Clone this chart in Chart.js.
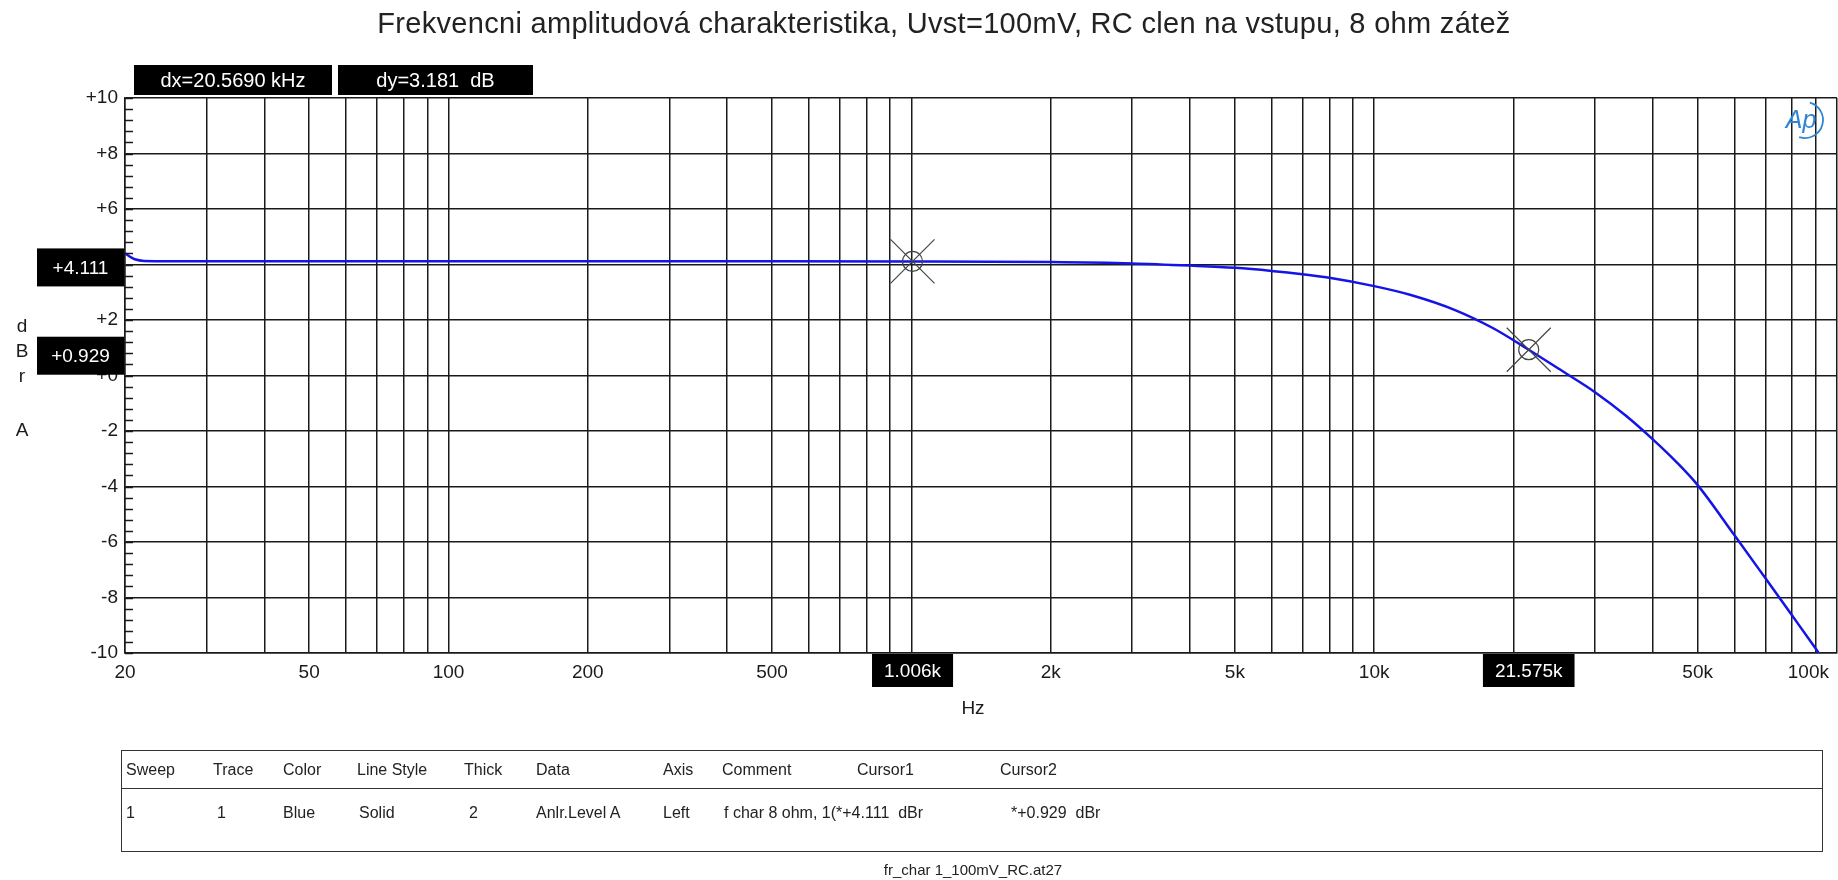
<!DOCTYPE html>
<html>
<head>
<meta charset="utf-8">
<title>fr_char 1_100mV_RC</title>
<script src="https://cdn.jsdelivr.net/npm/chart.js@4.4.1/dist/chart.umd.min.js"></script>
<style>
  html, body { margin: 0; padding: 0; background: #fff; overflow: hidden; }
  #wrap { position: relative; width: 1838px; height: 880px; font-family: "Liberation Sans", Arial, sans-serif; color: #222; }
  #canvas { position: absolute; left: 0; top: 0; }
  #title { position: absolute; left: 0; width: 1888px; top: 6px; line-height: 34px; text-align: center;
    font-size: 29px; letter-spacing: 0.3px; }
  #sweepTable { position: absolute; left: 121px; top: 750px; width: 1702px; height: 102px;
    border: 1.5px solid #333; box-sizing: border-box; font-size: 16px; }
  #sweepTable .sep { position: absolute; left: 0; right: 0; top: 37px; border-top: 1.5px solid #333; }
  #sweepTable span { position: absolute; white-space: pre; line-height: 18px; }
  #fileName { position: absolute; left: 0; width: 1946px; top: 861px; line-height: 18px; text-align: center; font-size: 15px; }
</style>
</head>
<body>
<div id="wrap">
  <canvas id="canvas" width="1838" height="880"></canvas>
  <div id="title">Frekvencni amplitudová charakteristika, Uvst=100mV, RC clen na vstupu, 8 ohm zátež</div>
  <div id="sweepTable"><div class="sep"></div></div>
  <div id="fileName">fr_char 1_100mV_RC.at27</div>
</div>
<script>
// measured response, trace 1 (Anlr.Level A, dBr)
const freqHz = [20, 20.5, 21, 22, 25, 30, 50, 100, 200, 500, 1006, 2000, 3000, 4000, 5000, 6000, 7000, 8000,
  10000, 12000, 15000, 18000, 21575, 25000, 30000, 35000, 40000, 45000, 50000, 60000, 70000, 80000, 90000, 100000];
const levelDbr = [4.40, 4.28, 4.19, 4.13, 4.12, 4.12, 4.12, 4.12, 4.12, 4.115, 4.111, 4.09, 4.04, 3.96, 3.88, 3.77, 3.65, 3.52,
  3.22, 2.90, 2.35, 1.72, 0.929, 0.25, -0.60, -1.45, -2.30, -3.12, -3.95, -5.75, -7.30, -8.65, -9.85, -10.95];

// vertical grid lines (1..9 per decade)
const xGridHz = [20, 30, 40, 50, 60, 70, 80, 90,
  100, 200, 300, 400, 500, 600, 700, 800, 900,
  1000, 2000, 3000, 4000, 5000, 6000, 7000, 8000, 9000,
  10000, 20000, 30000, 40000, 50000, 60000, 70000, 80000, 90000, 100000];
const xLabelHz = [20, 50, 100, 200, 500, 2000, 5000, 10000, 50000, 100000];
const xLabelText = ['20', '50', '100', '200', '500', '2k', '5k', '10k', '50k', '100k'];

// cursors
const cursorHz = [1006, 21575];
const cursorDbr = [4.111, 0.929];
const readoutText = ['dx=20.5690 kHz', 'dy=3.181  dB'];

// table below the graph
const tableHeads = ['Sweep', 'Trace', 'Color', 'Line Style', 'Thick', 'Data', 'Axis', 'Comment', 'Cursor1', 'Cursor2'];
const tableRow = ['1', '1', 'Blue', 'Solid', '2', 'Anlr.Level A', 'Left', 'f char 8 ohm, 1(*+4.111  dBr', '*+0.929  dBr'];
const headX = [4, 91, 161, 235, 342, 414, 541, 600, 735, 878];
const rowX = [4, 95, 161, 237, 347, 414, 541, 602, 889];

const FONT = '"Liberation Sans", Arial, sans-serif';
const INK = '#1a1a1a';

const tbl = document.getElementById('sweepTable');
tableHeads.forEach((t, i) => {
  const s = document.createElement('span');
  s.textContent = t; s.style.left = headX[i] + 'px'; s.style.top = '10px';
  tbl.appendChild(s);
});
tableRow.forEach((t, i) => {
  const s = document.createElement('span');
  s.textContent = t; s.style.left = rowX[i] + 'px'; s.style.top = '53px';
  tbl.appendChild(s);
});

const box = (ctx, x, y, w, h, text, size) => {
  ctx.fillStyle = '#000';
  ctx.fillRect(x, y, w, h);
  ctx.fillStyle = '#fff';
  ctx.font = size + 'px ' + FONT;
  ctx.textAlign = 'center';
  ctx.textBaseline = 'middle';
  ctx.fillText(text, x + w / 2, y + h / 2 + 1);
};

const extras = {
  id: 'extras',
  afterDraw(chart) {
    const { ctx, chartArea: a, scales: { x, y } } = chart;
    ctx.save();

    // minor ticks on the left axis
    ctx.strokeStyle = INK;
    ctx.lineWidth = 1.5;
    for (let i = 0; i <= 50; i++) {
      const py = Math.round(y.getPixelForValue(-10 + i * 0.4)) + 0.5;
      ctx.beginPath();
      ctx.moveTo(a.left, py);
      ctx.lineTo(a.left + 8, py);
      ctx.stroke();
    }

    // frequency labels
    ctx.fillStyle = INK;
    ctx.font = '19px ' + FONT;
    ctx.textAlign = 'center';
    ctx.textBaseline = 'middle';
    xLabelHz.forEach((v, i) => {
      const w = ctx.measureText(xLabelText[i]).width;
      let px = x.getPixelForValue(v);
      px = Math.min(px, chart.width - 9 - w / 2);
      ctx.fillText(xLabelText[i], px, a.bottom + 20);
    });
    ctx.fillText('Hz', 973, 709);

    // axis title, stacked letters
    [['d', 327], ['B', 352], ['r', 377], ['A', 431]].forEach(([c, py]) => ctx.fillText(c, 22, py));

    // readouts above the graph
    box(ctx, 134, 65, 198, 30, readoutText[0], 20);
    box(ctx, 338, 65, 195, 30, readoutText[1], 20);

    // cursor markers
    cursorHz.forEach((f, i) => {
      const px = x.getPixelForValue(f);
      const py = y.getPixelForValue(cursorDbr[i]);
      ctx.strokeStyle = '#444';
      ctx.lineWidth = 1.2;
      ctx.beginPath();
      ctx.arc(px, py, 10, 0, Math.PI * 2);
      ctx.moveTo(px - 22, py - 22); ctx.lineTo(px + 22, py + 22);
      ctx.moveTo(px + 22, py - 22); ctx.lineTo(px - 22, py + 22);
      ctx.stroke();

      // value boxes on both axes
      box(ctx, 37, py - 13, 87, 38, '+' + cursorDbr[i].toFixed(3), 19);
      const t = (f / 1000).toFixed(3) + 'k';
      ctx.font = '19px ' + FONT;
      const w = ctx.measureText(t).width + 24;
      box(ctx, px - w / 2, a.bottom + 1, w, 33, t, 19);
    });

    // Ap logo
    ctx.fillStyle = '#2f86d4';
    ctx.strokeStyle = '#2f86d4';
    ctx.font = 'italic 25px ' + FONT;
    ctx.textAlign = 'center';
    ctx.fillText('Ap', 1801, 121);
    ctx.lineWidth = 1.8;
    ctx.beginPath();
    ctx.arc(1805, 120, 18, -1.3, 1.9);
    ctx.stroke();

    ctx.restore();
  }
};

const ctx = document.getElementById('canvas').getContext('2d');

new Chart(ctx, {
  type: 'line',
  data: {
    datasets: [{
      data: freqHz.map((f, i) => ({ x: f, y: levelDbr[i] })),
      borderColor: '#1414e6',
      borderWidth: 2.5,
      pointRadius: 0,
      cubicInterpolationMode: 'monotone',
    }],
  },
  options: {
    responsive: false,
    animation: false,
    devicePixelRatio: 1,
    layout: { padding: { top: 98, right: 1 } },
    plugins: {
      legend: { display: false },
      tooltip: { enabled: false },
    },
    scales: {
      x: {
        type: 'logarithmic',
        min: 20,
        max: 100000,
        afterBuildTicks: (s) => { s.ticks = xGridHz.map((v) => ({ value: v })); },
        ticks: { display: false },
        grid: { color: INK, lineWidth: 1.5, drawTicks: false },
        border: { color: INK, width: 1.5 },
        afterFit: (s) => { s.height = 227; s.paddingLeft = 0; s.paddingRight = 0; },
      },
      y: {
        min: -10,
        max: 10,
        ticks: {
          stepSize: 2,
          padding: 7,
          color: INK,
          font: { family: FONT, size: 19 },
          callback: (v) => (v >= 0 ? '+' : '') + v,
        },
        grid: { color: INK, lineWidth: 1.5, drawTicks: false },
        border: { color: INK, width: 1.5 },
        afterFit: (s) => { s.width = 125; },
      },
    },
  },
  plugins: [extras],
});
</script>
</body>
</html>
